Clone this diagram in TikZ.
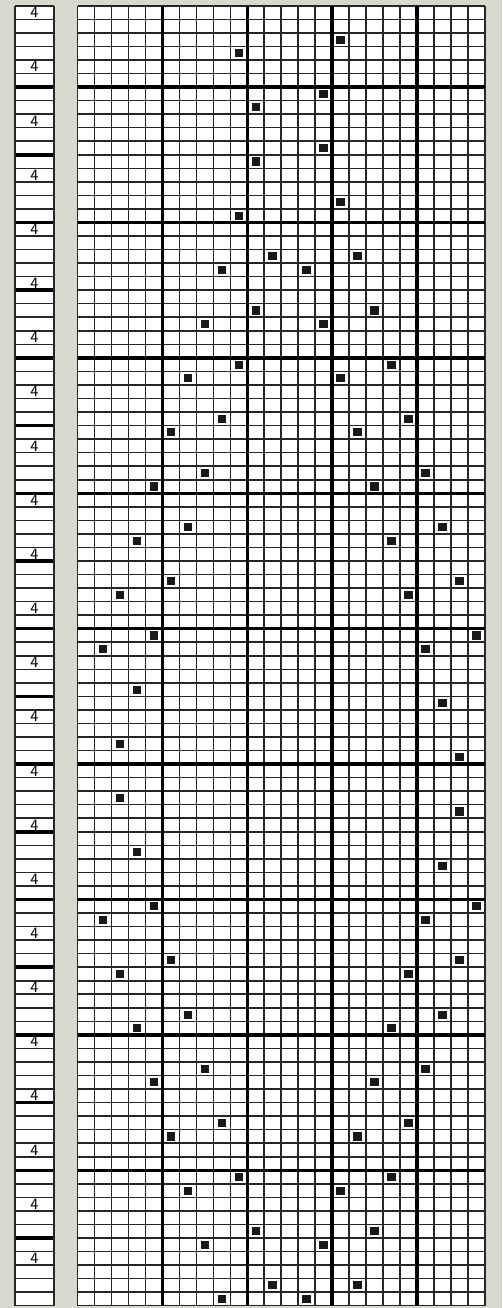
\documentclass[tikz,border=0pt]{standalone}
\usepackage{tikz}
\definecolor{carta}{RGB}{214,217,206}
\tikzset{
  fine/.style={line width=0.9pt, black!85},
  spessa/.style={line width=2pt, black},
  punto/.style={fill=black!90}
}
\begin{document}
\begin{tikzpicture}[x=0.3392cm, y=0.2708cm]
\useasboundingbox[fill=carta] (-4.58,-0.17) rectangle (25.02,96.43);
% Striscia laterale
\fill[white] (-3.70,0) rectangle (-1.40,96);
\foreach \k in {0,...,96} \draw[fine] (-3.70,\k) -- (-1.40,\k);
\foreach \k in {5,10,...,90} \draw[spessa] (-3.70,\k) -- (-1.40,\k);
\draw[fine] (-3.70,0) -- (-3.70,96) (-1.40,0) -- (-1.40,96);
\foreach \r in {0,4,...,92}
  \node[font=\small\sffamily, inner sep=0pt] (quattro\r) at (-2.55,95.5-\r) {4};
% Griglia
\fill[white] (0,0) rectangle (24,96);
\foreach \c in {0,...,24} \draw[fine] (\c,0) -- (\c,96);
\foreach \k in {0,...,96} \draw[fine] (0,\k) -- (24,\k);
\foreach \c in {5,10,15,20} \draw[spessa] (\c,0) -- (\c,96);
\foreach \k in {10,20,...,90} \draw[spessa] (0,\k) -- (24,\k);
% Punti (colonna/riga, riga 0 in alto)
\foreach \c/\r in {9/3, 15/2, 10/7, 14/6, 10/11, 14/10, 9/15, 15/14,
    8/19, 11/18, 13/19, 16/18, 7/23, 10/22, 14/23, 17/22,
    6/27, 9/26, 15/27, 18/26, 8/30, 16/31, 5/31, 19/30,
    7/34, 17/35, 4/35, 20/34, 6/38, 18/39, 3/39, 21/38,
    5/42, 19/43, 2/43, 22/42, 4/46, 20/47, 1/47, 23/46,
    3/50, 21/51, 2/54, 22/55, 2/58, 22/59, 3/62, 21/63,
    4/66, 1/67, 20/67, 23/66, 5/70, 2/71, 19/71, 22/70,
    6/74, 3/75, 18/75, 21/74, 7/78, 4/79, 17/79, 20/78,
    8/82, 5/83, 16/83, 19/82, 9/86, 6/87, 15/87, 18/86,
    7/91, 10/90, 14/91, 17/90, 8/95, 11/94, 13/95, 16/94}
  \fill[punto] (\c+0.25,95.2-\r) rectangle (\c+0.75,95.8-\r);
\end{tikzpicture}
\end{document}
